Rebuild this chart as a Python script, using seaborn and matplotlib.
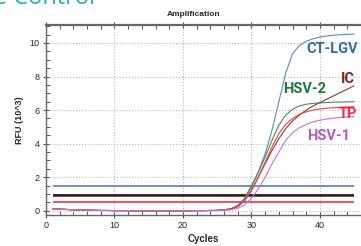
import pandas as pd
import matplotlib
matplotlib.use("Agg")
import matplotlib.pyplot as plt
import seaborn as sns
from matplotlib.ticker import MultipleLocator

# dati
cycles = list(range(1, 46))
baseline = [0.12, 0.10, 0.08, 0.06, 0.05, 0.04, 0.03, 0.02, 0.02, 0.01, 0.01, 0.01,
            0.0, 0.0, 0.0, 0.0, 0.0, 0.0, 0.0, 0.0, 0.0, 0.01, 0.01, 0.02]
ct_lgv = [0.03, 0.06, 0.12, 0.3, 0.7, 1.4, 2.3, 3.4, 4.8, 6.5, 8.2, 9.35, 9.85, 10.1,
          10.25, 10.35, 10.42, 10.46, 10.49, 10.51, 10.53]
hsv2 = [0.03, 0.06, 0.12, 0.3, 0.75, 1.5, 2.3, 3.2, 4.2, 5.1, 5.7, 6.05, 6.25, 6.35,
        6.4, 6.43, 6.45, 6.47, 6.48, 6.49, 6.5]
tp = [0.02, 0.05, 0.1, 0.25, 0.6, 1.2, 2.0, 2.9, 3.8, 4.6, 5.15, 5.5, 5.75, 5.9,
      6.0, 6.07, 6.11, 6.14, 6.17, 6.19, 6.2]
ic = [0.02, 0.05, 0.1, 0.25, 0.6, 1.2, 2.0, 2.8, 3.6, 4.3, 4.9, 5.35, 5.7, 6.0,
      6.25, 6.45, 6.65, 6.85, 7.05, 7.25, 7.45]
hsv1 = [0.01, 0.03, 0.06, 0.15, 0.35, 0.75, 1.3, 2.0, 2.8, 3.5, 4.2, 4.65, 4.95, 5.15,
        5.3, 5.4, 5.47, 5.52, 5.56, 5.59, 5.62]

targets = ["CT-LGV", "HSV-2", "IC", "TP", "HSV-1"]
line_colors = ["#5f8ab0", "#4f8560", "#8e3a3a", "#e4424f", "#c276cc"]
text_colors = ["#2f6ea3", "#1f7a3e", "#7a2820", "#f2304a", "#b45cba"]
label_x = [41.75, 37.8, 44.1, 44.1, 41.3]
label_y = [9.64, 7.26, 7.83, 5.74, 4.46]

thresholds = [1.5, 0.9, 0.97, 0.55]
threshold_colors = ["#5a7fa2", "#8b2020", "#151010", "#e03848"]

rows = []
for name, tail in zip(targets, [ct_lgv, hsv2, ic, tp, hsv1]):
    for c, v in zip(cycles, baseline + tail):
        rows.append({"Cycles": c, "RFU": v, "target": name})
df = pd.DataFrame(rows)

sns.set_style("white")
plt.rcParams["font.family"] = ["Liberation Sans", "DejaVu Sans"]

fig = plt.figure(figsize=(3.61, 2.46), dpi=100)
ax = fig.add_axes([46 / 361, 31 / 246, 315 / 361, 190 / 246])

for y, col in zip(thresholds, threshold_colors):
    ax.hlines(y, 1, 45, color=col, lw=1.2, zorder=2)

sns.lineplot(data=df, x="Cycles", y="RFU", hue="target", hue_order=targets,
             palette=dict(zip(targets, line_colors)), linewidth=0.8,
             legend=False, ax=ax, zorder=3)

for name, col, x, y in zip(targets, text_colors, label_x, label_y):
    ax.text(x, y, name, color=col, ha="center", va="center", fontsize=10.5,
            fontweight="bold", family=["Roboto", "DejaVu Sans"], zorder=4)

ax.set_xlim(0, 46)
ax.set_ylim(-0.25, 11.07)
ax.xaxis.set_major_locator(MultipleLocator(10))
ax.xaxis.set_minor_locator(MultipleLocator(2))
ax.yaxis.set_major_locator(MultipleLocator(2))
ax.yaxis.set_minor_locator(MultipleLocator(0.5))
ax.grid(True, which="major", linestyle=":", color="#b5b5b5", linewidth=0.8)
ax.tick_params(which="major", direction="inout", length=5, width=0.8, color="#555555",
               labelsize=6.5, top=True, bottom=True, left=True, pad=2)
ax.tick_params(which="minor", direction="in", length=3, width=0.7, color="#555555",
               top=True, bottom=True, left=True)
ax.tick_params(axis="x", labeltop=False)
for side in ["top", "bottom", "left"]:
    ax.spines[side].set_color("#666666")
    ax.spines[side].set_linewidth(1.0)
ax.spines["top"].set_linewidth(1.6)
ax.spines["right"].set_visible(False)

ax.set_xlabel("Cycles", fontsize=7, fontweight="bold", labelpad=3)
ax.set_ylabel("RFU (10^3)", fontsize=6.5, fontweight="bold", labelpad=4)

fig.text(194 / 361, 1 - 15 / 246, "Amplification", ha="center", va="center",
         fontsize=6, fontweight="bold")
fig.text(95 / 361, 1 - 4 / 246, "Positive Control", ha="right", va="baseline",
         fontsize=17, color="#27b39f", family=["Open Sans", "DejaVu Sans"])

fig.savefig("out.png", dpi=100)
